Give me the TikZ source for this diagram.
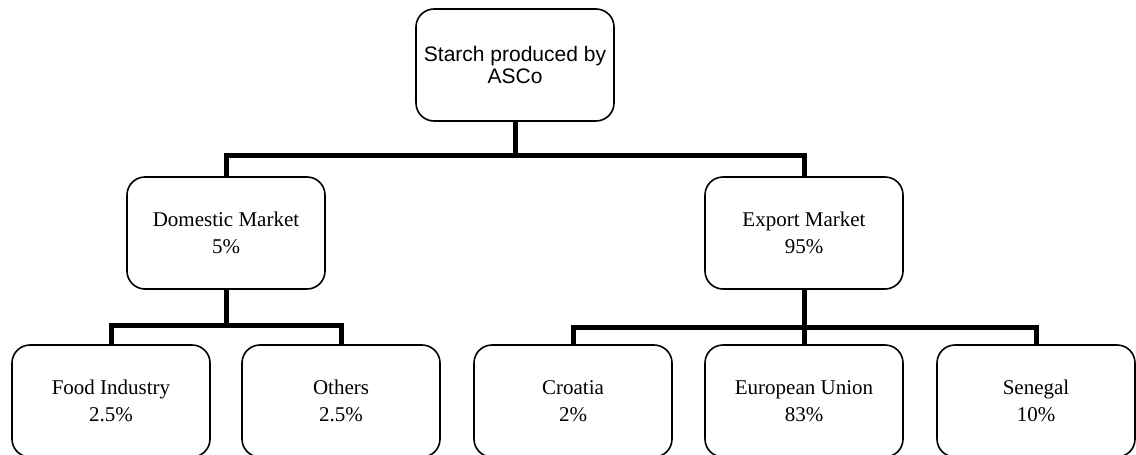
\documentclass[tikz,border=0pt]{standalone}
\usepackage{fontspec}
\setmainfont{Liberation Serif}
\newfontfamily\arialfont{Liberation Sans}
\begin{document}
\begin{tikzpicture}[x=1pt,y=-1pt,
  box/.style={draw, line width=1.6pt, rounded corners=18pt,
    minimum width=198pt, minimum height=112pt, align=center,
    inner sep=0pt, font=\fontsize{21}{27}\selectfont},
  link/.style={line width=5pt, line join=miter}]
\useasboundingbox (0,0) rectangle (1136,455);
\clip (0,0) rectangle (1136,455);

% root
\node[box, font=\arialfont\fontsize{21}{22}\selectfont] (root) at (515,65) {Starch produced by\\ASCo};

% markets
\node[box] (dom) at (226,233) {Domestic Market\\5\%};
\node[box] (exp) at (804,233) {Export Market\\95\%};

% destinations
\node[box] (food) at (111,401) {Food Industry\\2.5\%};
\node[box] (oth)  at (341,401) {Others\\2.5\%};
\node[box] (cro)  at (573,401) {Croatia\\2\%};
\node[box] (eu)   at (804,401) {European Union\\83\%};
\node[box] (sen)  at (1036,401) {Senegal\\10\%};

% root to markets
\draw[link] (root.south) -- (515,155);
\draw[link] (dom.north) |- (exp.north |- 0,155) -- (exp.north);

% domestic branch
\draw[link] (dom.south) -- (226,325);
\draw[link] (food.north) |- (oth.north |- 0,325) -- (oth.north);

% export branch
\draw[link] (exp.south) -- (eu.north);
\draw[link] (cro.north) |- (sen.north |- 0,327) -- (sen.north);
\end{tikzpicture}
\end{document}
